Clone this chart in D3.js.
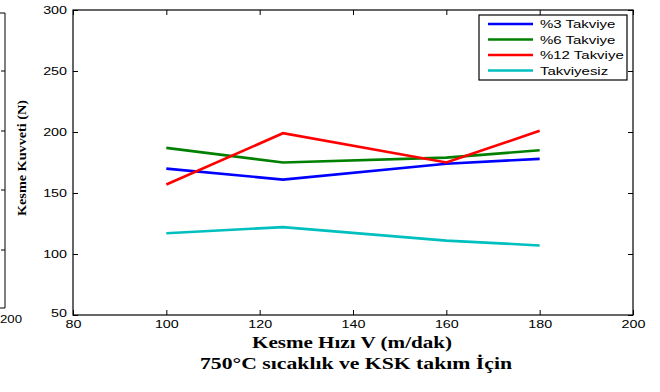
<!DOCTYPE html>
<html>
<head>
<meta charset="utf-8">
<script src="https://cdn.jsdelivr.net/npm/d3@7"></script>
<style>
  body { margin: 0; background: #fff; }
  svg { display: block; }
  .tick text { font-family: Arial, "Liberation Sans", sans-serif; font-size: 11px; fill: #000; }
  .serif { font-family: "Liberation Serif", "Times New Roman", serif; font-weight: bold; }
</style>
</head>
<body>
<div id="container"></div>
<script>
// speeds (m/dak)
const speeds = [100, 125, 160, 180];

// cutting force values per series (N)
const seriesNames = ['%3 Takviye', '%6 Takviye', '%12 Takviye', 'Takviyesiz'];
const takviye3 = [170, 161, 174, 178];
const takviye6 = [187, 175, 179, 185];
const takviye12 = [157, 199, 175, 201];
const takviyesiz = [117, 122, 111, 107];

const xTicks = [80, 100, 120, 140, 160, 180, 200];
const yTicks = [50, 100, 150, 200, 250, 300];

const colors = ['#0000ff', '#008000', '#ff0000', '#00bfbf'];
const allSeries = [takviye3, takviye6, takviye12, takviyesiz];

const width = 660;
const height = 392;

// plot area
const plot = { left: 73, right: 633, top: 10, bottom: 315 };

const svg = d3.select('#container').append('svg')
    .attr('width', width)
    .attr('height', height);

// the original figure is stretched sideways, so widen text the same way
function stretch(sel, k) {
    sel.each(function () {
        const len = this.getComputedTextLength();
        d3.select(this)
            .attr('textLength', len * k)
            .attr('lengthAdjust', 'spacingAndGlyphs');
    });
}

//Scales
const xScale = d3.scaleLinear().domain([80, 200]).range([plot.left, plot.right]);
const yScale = d3.scaleLinear().domain([50, 300]).range([plot.bottom, plot.top]);

// leftover edge of the neighbouring chart
const leftEdge = svg.append('g');
leftEdge.append('line')
    .attr('x1', 5).attr('x2', 5).attr('y1', 13).attr('y2', 308)
    .attr('stroke', '#000').attr('stroke-width', 1);
leftEdge.append('line')
    .attr('x1', 0).attr('x2', 5).attr('y1', 13).attr('y2', 13)
    .attr('stroke', '#000');
leftEdge.append('line')
    .attr('x1', 0).attr('x2', 5).attr('y1', 308).attr('y2', 308)
    .attr('stroke', '#000');
[71, 131, 190, 250].forEach(y => {
    leftEdge.append('line')
        .attr('x1', 1).attr('x2', 5).attr('y1', y).attr('y2', y)
        .attr('stroke', '#000');
});
leftEdge.append('text')
    .attr('x', 0).attr('y', 323)
    .attr('text-anchor', 'start')
    .style('font-family', 'Arial, "Liberation Sans", sans-serif')
    .style('font-size', '11px')
    .text('200')
    .call(stretch, 1.2);

//Axes (MATLAB style inward ticks)
svg.append('g')
    .attr('transform', 'translate(0,' + plot.bottom + ')')
    .call(d3.axisBottom(xScale).tickValues(xTicks).tickSizeInner(-5).tickSizeOuter(0).tickPadding(5))
    .call(g => g.select('.domain').remove());

svg.append('g')
    .attr('transform', 'translate(' + plot.left + ',0)')
    .call(d3.axisLeft(yScale).tickValues(yTicks).tickSizeInner(-5).tickSizeOuter(0).tickPadding(6))
    .call(g => g.select('.domain').remove());

svg.append('g')
    .attr('transform', 'translate(0,' + plot.top + ')')
    .call(d3.axisTop(xScale).tickValues(xTicks).tickSizeInner(-5).tickSizeOuter(0).tickFormat(''))
    .call(g => g.select('.domain').remove());

svg.append('g')
    .attr('transform', 'translate(' + plot.right + ',0)')
    .call(d3.axisRight(yScale).tickValues(yTicks).tickSizeInner(-5).tickSizeOuter(0).tickFormat(''))
    .call(g => g.select('.domain').remove());

svg.selectAll('.tick text').filter(d => d === 50).attr('dy', '0.1em');
svg.selectAll('.tick text').call(stretch, 1.3);

svg.append('rect')
    .attr('x', plot.left).attr('y', plot.top)
    .attr('width', plot.right - plot.left).attr('height', plot.bottom - plot.top)
    .attr('fill', 'none').attr('stroke', '#000').attr('stroke-width', 1.2);

//Lines
const line = d3.line()
    .x((d, i) => xScale(speeds[i]))
    .y(d => yScale(d));

allSeries.forEach((s, i) => {
    svg.append('path')
        .datum(s)
        .attr('d', line)
        .attr('fill', 'none')
        .attr('stroke', colors[i])
        .attr('stroke-width', 2.6);
});

//Legend
const legend = svg.append('g').attr('transform', 'translate(479,15)');
legend.append('rect')
    .attr('width', 148).attr('height', 65)
    .attr('fill', '#fff').attr('stroke', '#000').attr('stroke-width', 1.2);
seriesNames.forEach((name, i) => {
    const y = 9 + i * 15.5;
    legend.append('line')
        .attr('x1', 9).attr('x2', 54).attr('y1', y).attr('y2', y)
        .attr('stroke', colors[i]).attr('stroke-width', 2.6);
    legend.append('text')
        .attr('x', 61).attr('y', y + 4)
        .style('font-family', 'Arial, "Liberation Sans", sans-serif')
        .style('font-size', '11px')
        .text(name)
        .call(stretch, 1.36);
});

//Labels
svg.append('text')
    .attr('class', 'serif')
    .attr('transform', 'translate(26,158) rotate(-90)')
    .attr('text-anchor', 'middle')
    .attr('textLength', 116)
    .attr('lengthAdjust', 'spacingAndGlyphs')
    .style('font-size', '13px')
    .text('Kesme Kuvveti (N)');

svg.append('text')
    .attr('class', 'serif')
    .attr('x', 352).attr('y', 348)
    .attr('text-anchor', 'middle')
    .attr('textLength', 200)
    .attr('lengthAdjust', 'spacingAndGlyphs')
    .style('font-size', '16px')
    .text('Kesme Hızı V (m/dak)');

svg.append('text')
    .attr('class', 'serif')
    .attr('x', 356).attr('y', 369)
    .attr('text-anchor', 'middle')
    .attr('textLength', 312)
    .attr('lengthAdjust', 'spacingAndGlyphs')
    .style('font-size', '17px')
    .text('750°C sıcaklık ve KSK takım İçin');
</script>
</body>
</html>
